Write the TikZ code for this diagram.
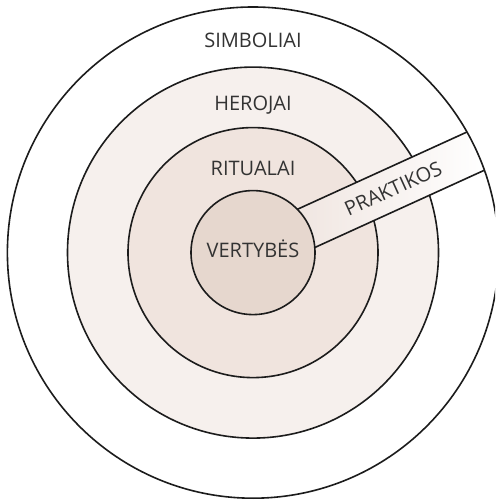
\documentclass[tikz,border=0pt]{standalone}
\usepackage{fontspec}
\setmainfont{Open Sans}
\usetikzlibrary{calc}
\definecolor{ringA}{HTML}{F6F0ED}
\definecolor{ringB}{HTML}{F0E4DE}
\definecolor{core}{HTML}{E6D7CE}
\definecolor{bandL}{HTML}{F0E6E1}
\definecolor{txt}{HTML}{333333}
\definecolor{ln}{HTML}{1C1C1C}
\begin{document}
\begin{tikzpicture}[x=1pt,y=1pt,
  ring/.style={draw=ln, line width=1.6pt},
  lbl/.style={text=txt, font=\fontsize{20}{24}\selectfont, inner sep=0pt, anchor=base}]
\useasboundingbox (0,0) rectangle (495,500);
\clip (0,0) rectangle (495,500);
\fill[white] (0,0) rectangle (495,500);
\coordinate (C) at (253,247.4);
% rings
\fill[white] (C) circle (245.6);
\draw[ring, fill=ringA] (C) circle (185.5);
\draw[ring, fill=ringB] (C) circle (125);
% band
\begin{scope}[shift={(C)}, rotate=24.5]
  \begin{scope}
    \clip (0,0) circle (245.6);
    \shade[left color=bandL, right color=white] (58,-21) rectangle (248,21);
  \end{scope}
  \coordinate (bu1) at (58.3,21);
  \coordinate (bu2) at (244.7,21);
  \coordinate (bl1) at (58.3,-21);
  \coordinate (bl2) at (244.7,-21);
  \draw[ln, line width=1.6pt] (bu1) -- (bu2);
  \draw[ln, line width=1.6pt] (bl1) -- (bl2);
\end{scope}
\draw[ring, fill=core] (C) circle (62);
\draw[ring] (C) circle (245.6);
% labels
\node[lbl] (simb) at (253,452.5) {SIMBOLIAI};
\node[lbl] (hero) at (253,389.4) {HEROJAI};
\node[lbl] (rit) at (253,324.9) {RITUALAI};
\node[lbl] (vert) at (253,242.6) {VERTYBĖS};
\node[text=txt, font=\fontsize{20}{24}\selectfont, inner sep=0pt, rotate=24.5] (prak) at ($(C)+(24.5:154)$) {PRAKTIKOS};
\end{tikzpicture}
\end{document}
